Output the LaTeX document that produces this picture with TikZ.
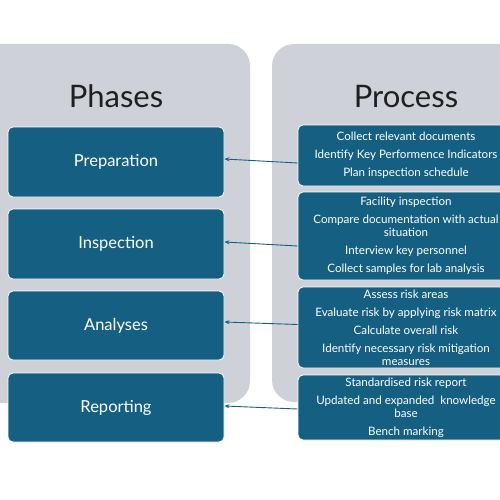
\documentclass[tikz,border=0pt]{standalone}
\usepackage{fontspec}
\setmainfont{Lato}
\usetikzlibrary{arrows.meta,calc}
\definecolor{boxteal}{HTML}{156082}
\definecolor{panelgrey}{HTML}{CED2D8}
\begin{document}
\begin{tikzpicture}[x=1pt,y=-1pt,
  panel/.style={fill=panelgrey, rounded corners=22pt},
  phasebox/.style={draw=white, line width=0.8pt, fill=boxteal, rounded corners=5pt, text=white,
    minimum width=216pt, font=\fontsize{16.5}{19}\selectfont, inner sep=0pt},
  procbox/.style={draw=white, line width=0.8pt, fill=boxteal, rounded corners=5pt, text=white,
    minimum width=216pt, font=\fontsize{11.6}{13}\selectfont, align=center, inner sep=0pt},
  titletext/.style={font=\fontsize{31}{34}\selectfont, text=black!88},
  link/.style={draw=boxteal, line width=0.9pt, -{Stealth[length=5pt,width=4pt]}}]
\useasboundingbox (0,0) rectangle (500,500);
\clip (0,0) rectangle (500,500);
\fill[white] (0,0) rectangle (500,500);
% panels
\path[panel] (-30,44) rectangle (250,403);
\path[panel] (272,44) rectangle (560,402);
% titles
\node[titletext] (tphases) at (116,96) {Phases};
\node[titletext] (tprocess) at (406,97) {Process};
% phase boxes
\node[phasebox, minimum height=70pt] (p1) at (116,162) {Preparation};
\node[phasebox, minimum height=70pt] (p2) at (116,244) {Inspection};
\node[phasebox, minimum height=69pt] (p3) at (116,325.5) {Analyses};
\node[phasebox, minimum height=69pt] (p4) at (116,407.5) {Reporting};
% process boxes
\node[procbox, minimum height=61pt] (r1) at (406,155.5)
  {Collect relevant documents\\[5pt]Identify Key Performence Indicators\\[5pt]Plan inspection schedule};
\node[procbox, minimum height=88pt] (r2) at (406,236)
  {Facility inspection\\[5pt]Compare documentation with actual\\situation\\[5pt]Interview key personnel\\[5pt]Collect samples for lab analysis};
\node[procbox, minimum height=81pt] (r3) at (406,327.5)
  {Assess risk areas\\[5pt]Evaluate risk by applying risk matrix\\[5pt]Calculate overall risk\\[5pt]Identify necessary risk mitigation\\measures};
\node[procbox, minimum height=65pt] (r4) at (406,407.5)
  {Standardised risk report\\[5pt]Updated and expanded\ \ knowledge\\base\\[5pt]Bench marking};
% connectors
\draw[link] ($(r1.west)+(0,7.5)$) -- ($(p1.east)+(0,-3)$);
\draw[link] ($(r2.west)+(0,10)$) -- ($(p2.east)+(0,-2)$);
\draw[link] ($(r3.west)+(0,-3)$) -- ($(p3.east)+(0,-3.5)$);
\draw[link] ($(r4.west)+(0,1.5)$) -- ($(p4.east)+(0,-1.5)$);
\end{tikzpicture}
\end{document}
